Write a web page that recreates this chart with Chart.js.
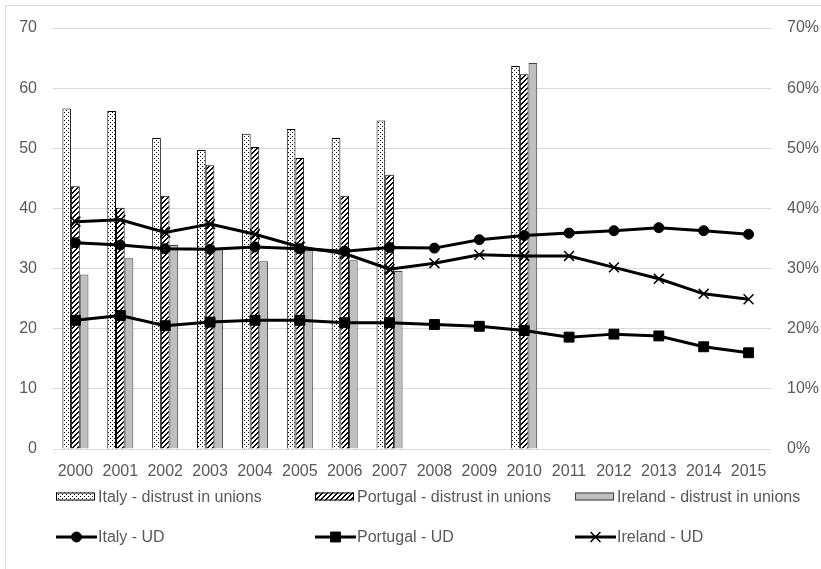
<!DOCTYPE html>
<html>
<head>
<meta charset="utf-8">
<script src="https://cdn.jsdelivr.net/npm/chart.js@4.4.1/dist/chart.umd.min.js"></script>
<style>
    body { margin: 0; background: #fff; overflow: hidden; }
    #frame { position: absolute; left: 5px; top: 5px; width: 900px; height: 700px; border: 1px solid #d9d9d9; }
    #wrap { position: absolute; left: 0; top: 0; width: 821px; height: 569px; }
</style>
</head>
<body>
<div id="frame"></div>
<div id="wrap"><canvas id="chart"></canvas></div>
<script>
const years = ['2000', '2001', '2002', '2003', '2004', '2005', '2006', '2007',
    '2008', '2009', '2010', '2011', '2012', '2013', '2014', '2015'];

// bars (left axis)
const italyDistrust = [56.6, 56.2, 51.7, 49.7, 52.4, 53.2, 51.7, 54.6, null, null, 63.7, null, null, null, null, null];
const portugalDistrust = [43.7, 40.1, 42.1, 47.2, 50.2, 48.4, 42.1, 45.6, null, null, 62.3, null, null, null, null, null];
const irelandDistrust = [29.0, 31.7, 33.9, 33.2, 31.2, 33.2, 31.4, 29.6, null, null, 64.2, null, null, null, null, null];

// lines (right axis, %)
const italyUD = [34.3, 33.9, 33.3, 33.2, 33.6, 33.3, 32.9, 33.5, 33.4, 34.8, 35.5, 35.9, 36.3, 36.8, 36.3, 35.7];
const portugalUD = [21.4, 22.2, 20.5, 21.1, 21.4, 21.4, 21.0, 21.0, 20.7, 20.4, 19.7, 18.6, 19.1, 18.8, 17.0, 16.0];
const irelandUD = [37.8, 38.1, 36.0, 37.4, 35.7, 33.6, 32.5, 29.9, 30.9, 32.3, 32.1, 32.1, 30.2, 28.3, 25.8, 24.9];

const axisMax = 70;
const axisStep = 10;

Chart.defaults.font.family = '"Liberation Sans", Arial, sans-serif';
Chart.defaults.font.size = 16;
Chart.defaults.color = '#595959';

function makePattern(size, draw) {
    const c = document.createElement('canvas');
    c.width = size;
    c.height = size;
    const g = c.getContext('2d');
    g.fillStyle = '#fff';
    g.fillRect(0, 0, size, size);
    g.fillStyle = '#000';
    draw(g);
    return g.createPattern(c, 'repeat');
}

const dots = makePattern(4, g => {
    g.fillRect(0, 0, 1, 1);
    g.fillRect(2, 2, 1, 1);
});
const hatch = makePattern(5, g => {
    for (let i = 0; i < 5; i++) {
        g.fillRect(4 - i, i, 1, 1);
        g.fillRect((5 - i) % 5, i, 1, 1);
    }
});

// legend laid out as a 3 x 2 grid like the original
const legendCols = [56, 315, 575];
const legendRows = [496.5, 537];

const gridLegend = {
    id: 'gridLegend',
    afterDraw(chart) {
        const ctx = chart.ctx;
        ctx.save();
        ctx.font = '16px "Liberation Sans", Arial, sans-serif';
        ctx.textBaseline = 'middle';
        chart.data.datasets.forEach((ds, i) => {
            const x = legendCols[i % 3];
            const y = legendRows[Math.floor(i / 3)];
            if (ds.type === 'bar') {
                ctx.fillStyle = ds.backgroundColor;
                ctx.strokeStyle = ds.borderColor;
                ctx.lineWidth = 1;
                ctx.fillRect(x, y - 4, 39, 8);
                ctx.strokeRect(x + 0.5, y - 3.5, 38, 7);
            } else {
                ctx.strokeStyle = '#000';
                ctx.lineWidth = 3;
                ctx.beginPath();
                ctx.moveTo(x, y);
                ctx.lineTo(x + 41, y);
                ctx.stroke();
                ctx.fillStyle = '#000';
                ctx.lineWidth = ds.pointBorderWidth;
                Chart.helpers.drawPoint(ctx, {
                    pointStyle: ds.pointStyle,
                    radius: ds.pointRadius,
                    rotation: 0,
                    borderWidth: ds.pointBorderWidth
                }, x + 20.5, y);
            }
            ctx.fillStyle = '#595959';
            ctx.fillText(ds.label, x + 42, y + 1);
        });
        ctx.restore();
    }
};

function lineSet(label, data, style, radius, bw) {
    return {
        type: 'line',
        label: label,
        data: data,
        yAxisID: 'y1',
        order: 0,
        borderColor: '#000',
        backgroundColor: '#000',
        borderWidth: 3,
        tension: 0,
        pointStyle: style,
        pointRadius: radius,
        pointBorderWidth: bw,
        pointBackgroundColor: '#000',
        pointBorderColor: '#000'
    };
}

function barSet(label, data, fill, border) {
    return {
        type: 'bar',
        label: label,
        data: data,
        yAxisID: 'y',
        order: 1,
        backgroundColor: fill,
        borderColor: border,
        borderWidth: 1,
        categoryPercentage: 0.58,
        barPercentage: 1
    };
}

new Chart(document.getElementById('chart'), {
    data: {
        labels: years,
        datasets: [
            barSet('Italy - distrust in unions', italyDistrust, dots, '#000'),
            barSet('Portugal - distrust in unions', portugalDistrust, hatch, '#000'),
            barSet('Ireland - distrust in unions', irelandDistrust, '#bfbfbf', '#404040'),
            lineSet('Italy - UD', italyUD, 'circle', 5, 1),
            lineSet('Portugal - UD', portugalUD, 'rect', 7, 1),
            lineSet('Ireland - UD', irelandUD, 'crossRot', 7, 1.5)
        ]
    },
    options: {
        responsive: true,
        maintainAspectRatio: false,
        animation: false,
        layout: { padding: { top: 28, left: 0, right: 0, bottom: 0 } },
        scales: {
            x: {
                grid: { display: false, drawTicks: false },
                border: { display: false },
                ticks: { padding: 13, maxRotation: 0, autoSkip: false },
                afterFit: s => { s.height = 120; }
            },
            y: {
                position: 'left',
                min: 0,
                max: axisMax,
                ticks: { stepSize: axisStep, padding: 16 },
                grid: { color: '#d9d9d9', drawTicks: false },
                border: { display: false },
                afterFit: s => { s.width = 53; }
            },
            y1: {
                position: 'right',
                min: 0,
                max: axisMax,
                ticks: { stepSize: axisStep, padding: 16, callback: v => v + '%' },
                grid: { display: false, drawTicks: false },
                border: { display: false },
                afterFit: s => { s.width = 50; }
            }
        },
        plugins: {
            legend: { display: false },
            tooltip: { enabled: false }
        }
    },
    plugins: [gridLegend]
});
</script>
</body>
</html>
